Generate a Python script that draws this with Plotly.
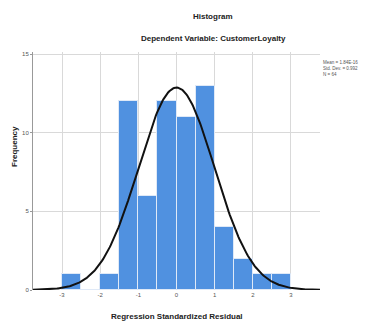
import numpy as np
import plotly.graph_objects as go

bin_left = [-3.0, -2.5, -2.0, -1.5, -1.0, -0.5, 0.0, 0.5, 1.0, 1.5, 2.0, 2.5]
counts = [1, 0, 1, 12, 6, 12, 11, 13, 4, 2, 1, 1]
bin_width = 0.5
mean, sd, n = 1.84e-16, 0.992, 64
x_ticks = [-3, -2, -1, 0, 1, 2, 3]
y_ticks = [0, 5, 10, 15]

W, H = 365, 322
L, R, T, B = 33, 45, 52, 32
xr = [-3.76, 3.76]
yr = [0, 15.13]

fig = go.Figure()
fig.add_trace(go.Bar(
    x=[b + bin_width / 2 for b in bin_left], y=counts, width=bin_width,
    marker=dict(color="#5091e0", line=dict(color="#dfe9f7", width=1)),
    showlegend=False, hoverinfo="skip"))

xs = np.linspace(xr[0], xr[1], 300)
ys = n * bin_width / (sd * np.sqrt(2 * np.pi)) * np.exp(-0.5 * ((xs - mean) / sd) ** 2)
fig.add_trace(go.Scatter(x=xs, y=ys, mode="lines", line=dict(color="#111111", width=2),
                         showlegend=False, hoverinfo="skip"))

fig.update_layout(
    width=W, height=H, margin=dict(l=L, r=R, t=T, b=B),
    paper_bgcolor="white", plot_bgcolor="white",
    font=dict(family="Liberation Sans, Arial, sans-serif", color="#222"),
    xaxis=dict(range=xr, tickvals=x_ticks, ticktext=[str(v) for v in x_ticks],
               showgrid=True, gridcolor="#d9d9d9", gridwidth=1, zeroline=False,
               showline=False, ticks="", tickfont=dict(size=6, color="#555")),
    yaxis=dict(range=yr, tickvals=y_ticks, showgrid=True, gridcolor="#d9d9d9",
               gridwidth=1, zeroline=False, showline=True, linecolor="#999",
               linewidth=1, ticks="outside", ticklen=2, tickcolor="#999",
               tickfont=dict(size=6, color="#555")),
    bargap=0,
)

NARROW = "Liberation Sans Narrow, Liberation Sans, sans-serif"
anns = [
    dict(text="Histogram", x=213, y=16, size=8),
    dict(text="Dependent Variable: CustomerLoyalty", x=213, y=38, size=8),
    dict(text="Regression Standardized Residual", x=177, y=316, size=8),
]
for a in anns:
    fig.add_annotation(text="<b>" + a["text"] + "</b>",
                       xref="paper", yref="paper",
                       x=(a["x"] - L) / (W - L - R), y=1 - (a["y"] - T) / (H - T - B),
                       xanchor="center", yanchor="middle", showarrow=False,
                       font=dict(size=a["size"], color="#222", family=NARROW))
fig.add_annotation(text="<b>Frequency</b>", textangle=-90, xref="paper", yref="paper",
                   x=(14 - L) / (W - L - R), y=1 - (147 - T) / (H - T - B),
                   xanchor="center", yanchor="middle", showarrow=False,
                   font=dict(size=8, color="#222", family=NARROW))
stats = f"Mean = 1.84E-16<br>Std. Dev. = {sd:.3f}<br>N = {n}"
fig.add_annotation(text=stats, xref="paper", yref="paper", align="left",
                   x=(321 - L) / (W - L - R), y=1 - (58 - T) / (H - T - B),
                   xanchor="left", yanchor="top", showarrow=False,
                   font=dict(size=4.5, color="#555", family=NARROW))

fig.write_html("out.html", config={"displayModeBar": False},
               post_script="document.body.style.margin='0';document.body.style.overflow='hidden';")
